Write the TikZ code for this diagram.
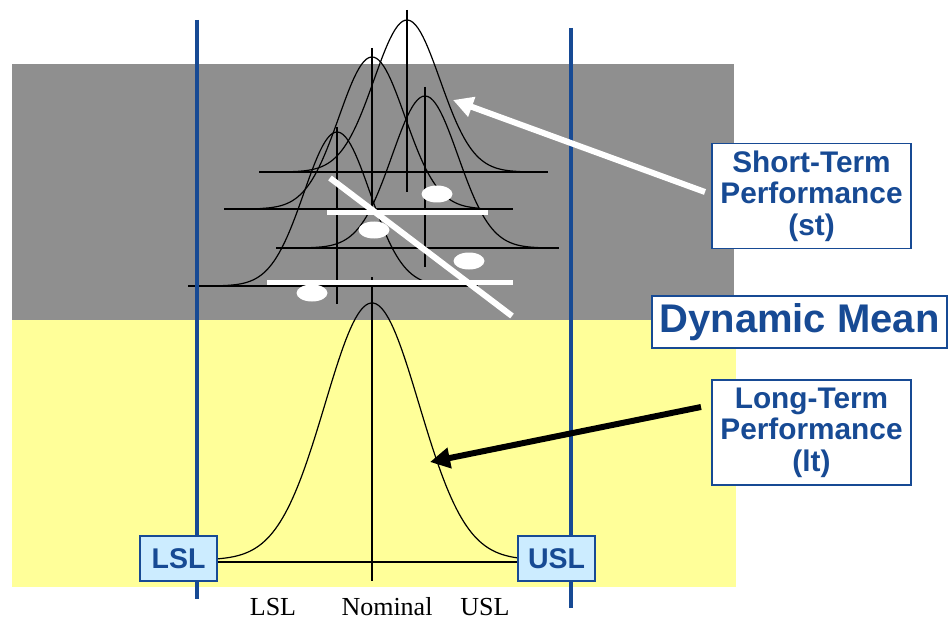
\documentclass[tikz,border=0pt]{standalone}
\usepackage{fontspec}
\setmainfont{Liberation Serif}
\setsansfont{Liberation Sans}
\usetikzlibrary{arrows.meta,shapes.geometric}
\definecolor{graybg}{HTML}{8F8F8F}
\definecolor{yellowbg}{HTML}{FFFF99}
\definecolor{dblue}{HTML}{174A94}
\definecolor{lblue}{HTML}{CCECFF}
\begin{document}
\begin{tikzpicture}[x=1pt,y=-1pt,
  thin/.style={black, line width=1.2pt},
  spec/.style={dblue, line width=4pt},
  whitebar/.style={white, line width=5pt},
  dot/.style={ellipse, fill=white, inner sep=0pt, minimum width=31pt, minimum height=17pt},
  labelbox/.style={draw=dblue, line width=1.8pt, fill=white, text=dblue, align=center,
    inner sep=0pt, font=\sffamily\bfseries\fontsize{29.8}{31.5}\selectfont,
    minimum width=199pt, minimum height=105pt},
  limbox/.style={draw=dblue, line width=2pt, fill=lblue, text=dblue, inner sep=0pt,
    font=\sffamily\bfseries\fontsize{28.5}{30}\selectfont, minimum width=77pt, minimum height=45pt},
  axislabel/.style={font=\fontsize{26}{28}\selectfont, anchor=base, inner sep=0pt},
  bigarrow/.style={line width=6pt, -{Triangle[length=20pt,width=20pt]}}
]
\useasboundingbox (0,0) rectangle (949,620);
% backgrounds
\fill[graybg] (12,64) rectangle (734,320);
\fill[yellowbg] (12,320) rectangle (736,587);

% short-term curves
\draw[thin] plot[domain=-114:113, samples=90] ({407+\x}, {172-152*exp(-0.5*(\x/33)*(\x/33))});
\draw[thin] plot[domain=-112:108, samples=90] ({372+\x}, {209-152*exp(-0.5*(\x/33)*(\x/33))});
\draw[thin] plot[domain=-115:113, samples=90] ({425+\x}, {248-152*exp(-0.5*(\x/33)*(\x/33))});
\draw[thin] plot[domain=-114:113, samples=90] ({337+\x}, {286-154*exp(-0.5*(\x/33)*(\x/33))});

% baselines of short-term curves
\coordinate (l1a) at (259,172); \coordinate (l1b) at (548,172);
\coordinate (l2a) at (224,209); \coordinate (l2b) at (513,209);
\coordinate (l3a) at (276,248); \coordinate (l3b) at (559,248);
\coordinate (l4a) at (188,286); \coordinate (l4b) at (478,286);
\draw[thin] (l1a) -- (l1b);
\draw[thin] (l2a) -- (l2b);
\draw[thin] (l3a) -- (l3b);
\draw[thin] (l4a) -- (l4b);

% means of short-term curves
\coordinate (v1a) at (407,10);  \coordinate (v1b) at (407,192);
\coordinate (v2a) at (372,48);  \coordinate (v2b) at (372,209);
\coordinate (v3a) at (425,87);  \coordinate (v3b) at (425,267);
\coordinate (v4a) at (337,127); \coordinate (v4b) at (337,304);
\draw[thin] (v1a) -- (v1b);
\draw[thin] (v2a) -- (v2b);
\draw[thin] (v3a) -- (v3b);
\draw[thin] (v4a) -- (v4b);

% long-term curve
\draw[thin] plot[domain=-155:145, samples=120] ({372+\x}, {560-257*exp(-0.5*(\x/47)*(\x/47))});
\coordinate (nomA) at (372,277); \coordinate (nomB) at (372,581);
\draw[thin] (nomA) -- (nomB);
\coordinate (bl) at (217,562); \coordinate (br) at (517,562);
\draw[thin] (bl) -- (br);

% spec limit lines
\coordinate (lslTop) at (197,20); \coordinate (lslBot) at (197,599);
\coordinate (uslTop) at (571,28); \coordinate (uslBot) at (571,608);
\draw[spec] (lslTop) -- (lslBot);
\draw[spec] (uslTop) -- (uslBot);

% white bars and drift line
\coordinate (w1a) at (327,213); \coordinate (w1b) at (488,213);
\coordinate (w2a) at (267,282); \coordinate (w2b) at (513,282);
\coordinate (dga) at (330,178); \coordinate (dgb) at (512,316);
\draw[whitebar] (w1a) -- (w1b);
\draw[whitebar] (w2a) -- (w2b);
\draw[white, line width=6pt] (dga) -- (dgb);

% dots
\node[dot] (d1) at (437,194) {};
\node[dot] (d2) at (374,230) {};
\node[dot] (d3) at (469,261) {};
\node[dot] (d4) at (312,293) {};

% label boxes
\node[labelbox] (st) at (811.5,196) {Short-Term\\Performance\\(st)};
\node[labelbox] (lt) at (811.5,432.5) {Long-Term\\Performance\\(lt)};
\node[draw=dblue, line width=1.8pt, fill=white, text=dblue, inner sep=0pt,
  font=\sffamily\bfseries\fontsize{40}{44}\selectfont,
  minimum width=295pt, minimum height=52pt] (dm) at (799.5,322) {Dynamic Mean};

% arrows
\coordinate (stA) at (705,192); \coordinate (stTip) at (453,100);
\coordinate (ltA) at (701,407); \coordinate (ltTip) at (430,462);
\draw[bigarrow, white] (stA) -- (stTip);
\draw[bigarrow, black] (ltA) -- (ltTip);

% spec boxes
\node[limbox] (lsl) at (178.5,558.5) {LSL};
\node[limbox] (usl) at (556.5,558.5) {USL};

% axis labels
\node[axislabel] (tl) at (273,615) {LSL};
\node[axislabel] (tn) at (387,615) {Nominal};
\node[axislabel] (tu) at (485,615) {USL};
\end{tikzpicture}
\end{document}
